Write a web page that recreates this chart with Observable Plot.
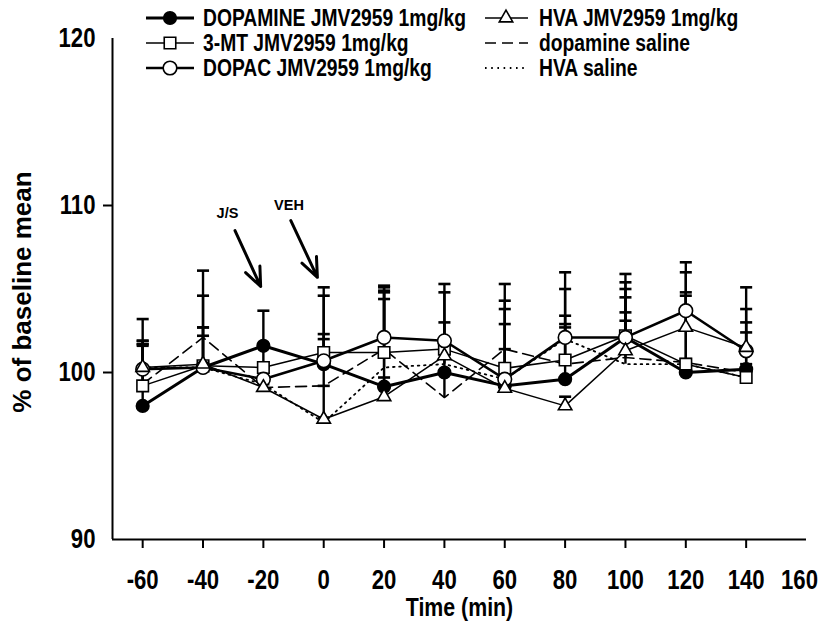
<!DOCTYPE html>
<html><head><meta charset="utf-8">
<script src="https://cdn.jsdelivr.net/npm/d3@7"></script>
<script src="https://cdn.jsdelivr.net/npm/@observablehq/plot@0.6"></script>
<style>
body{margin:0;background:#fff;}
#wrap{position:relative;width:827px;height:630px;}
#legend{position:absolute;left:0;top:0;}
</style></head><body><div id="wrap"></div>
<script>
const times = [-60, -40, -20, 0, 20, 40, 60, 80, 100, 120, 140];
const dopamineJMV      = [98.0, 100.3, 101.6, 100.5, 99.15, 100.0, 99.2, 99.6, 102.1, 100.0, 100.2];
const dopamineJMVUpper = [101.6, 102.7, 103.7, 102.3, 104.9, 103.0, 103.8, 103.4, 105.0, 104.6, 103.0];
const mtJMV            = [99.2, 100.4, 100.3, 101.2, 101.2, 101.4, 100.25, 100.75, 102.2, 100.5, 99.7];
const mtJMVUpper       = [101.7, 104.6, 101.5, 104.6, 105.1, 104.8, 105.3, 105.0, 105.9, 104.8, 102.4];
const dopacJMV         = [100.2, 100.3, 99.6, 100.7, 102.1, 101.9, 99.6, 102.1, 102.1, 103.7, 101.3];
const dopacJMVUpper    = [101.9, 106.1, 100.3, 105.1, 105.2, 105.3, 104.3, 106.0, 105.4, 106.6, 105.1];
const hvaJMV           = [100.3, 100.5, 99.1, 97.2, 98.55, 101.0, 99.05, 98.0, 101.3, 102.7, 101.5];
const hvaJMVUpper      = [103.2, 102.7, 99.6, 99.2, 99.7, 102.0, 101.4, 98.55, 104.5, 106.0, 103.8];
const dopamineSaline      = [99.3, 102.1, 99.1, 99.2, 101.4, 98.5, 101.4, 100.5, 100.9, 100.6, 100.0];
const dopamineSalineUpper = [101.9, 102.2, 99.3, 102.0, 104.8, 100.0, 102.9, 102.9, 103.6, 100.8, 100.5];
const hvaSaline           = [100.3, 100.3, 99.3, 97.0, 100.3, 100.5, 99.6, 102.0, 100.5, 100.5, 99.7];
const hvaSalineUpper      = [101.7, 100.6, 99.5, 97.3, 104.4, 101.4, 100.4, 102.7, 103.1, 100.7, 100.2];

const seriesNames = ["DOPAMINE JMV2959 1mg/kg", "3-MT JMV2959 1mg/kg", "DOPAC JMV2959 1mg/kg",
                     "HVA JMV2959 1mg/kg", "dopamine saline", "HVA saline"];
const xTickValues  = [-60, -40, -20, 0, 20, 40, 60, 80, 100, 120, 140];
const xLabelValues = [-60, -40, -20, 0, 20, 40, 60, 80, 100, 120, 140];
const xLastLabel   = [160];
const yTickValues  = [100, 110];
const yLabelValues = [90, 100, 110, 120];
const xTitle = "Time (min)";
const yTitle = "% of baseline mean";
const annotations = [
  {label: "J/S", lx: -31.9, ly: 109.5, x1: -29.4, y1: 108.5, x2: -20.9, y2: 105.15},
  {label: "VEH", lx: -11.5, ly: 110.0, x1: -10.9, y1: 109.1, x2: -2.1, y2: 105.7}
];

const valueSets = [dopamineJMV, mtJMV, dopacJMV, hvaJMV, dopamineSaline, hvaSaline];
const upperSets = [dopamineJMVUpper, mtJMVUpper, dopacJMVUpper, hvaJMVUpper, dopamineSalineUpper, hvaSalineUpper];
const styles = [
  {strokeWidth: 3},
  {strokeWidth: 1.5},
  {strokeWidth: 2.6},
  {strokeWidth: 1.5},
  {strokeWidth: 1.6, strokeDasharray: "11,6"},
  {strokeWidth: 1.8, strokeDasharray: "1.6,4.6"}
];
const markerDefs = [
  {symbol: "circle", fill: "black", r: 6.3},
  {symbol: "square", fill: "white", r: 6.5},
  {symbol: "circle", fill: "white", r: 6.8},
  {symbol: "triangle", fill: "white", r: 5.0},
  null, null
];

const series = seriesNames.map((name, i) => times.map((t, j) => ({series: name, time: t, value: valueSets[i][j], upper: upperSets[i][j]})));
const allRows = series.flat();

const capSymbol = {draw(ctx, size) { const w = Math.sqrt(size); ctx.moveTo(-w, 0); ctx.lineTo(w, 0); }};

const FONT = "'Liberation Sans', Arial, sans-serif";
const SQUEEZE = 0.82;

const marks = [];
series.forEach((rows, i) => marks.push(Plot.line(rows, {x: "time", y: "value", stroke: "black", ...styles[i]})));
marks.push(Plot.ruleX(allRows, {x: "time", y1: "value", y2: "upper", stroke: "black", strokeWidth: 2.4}));
marks.push(Plot.dot(allRows, {x: "time", y: "upper", symbol: capSymbol, r: 3.4, stroke: "black", strokeWidth: 2.6, fill: "none"}));
series.forEach((rows, i) => {
  const m = markerDefs[i];
  if (m) marks.push(Plot.dot(rows, {x: "time", y: "value", symbol: m.symbol, r: m.r, fill: m.fill, stroke: "black", strokeWidth: 1.6}));
});
marks.push(Plot.arrow(annotations, {x1: "x1", y1: "y1", x2: "x2", y2: "y2", stroke: "black", strokeWidth: 3, headLength: 16, headAngle: 45}));
marks.push(Plot.text(annotations, {x: "lx", y: "ly", text: "label", fontSize: 14.5, fontWeight: "bold", fill: "black"}));
// axes
marks.push(Plot.ruleX([-70], {stroke: "black", strokeWidth: 2}));
marks.push(Plot.ruleY([90], {stroke: "black", strokeWidth: 2}));
marks.push(Plot.axisX({ticks: xTickValues, tickSize: 9, tickFormat: () => "", strokeWidth: 2}));
marks.push(Plot.axisX({ticks: xLabelValues, tickSize: 0, tickPadding: 30, fontSize: 27, fontWeight: "bold", tickFormat: d => String(d)}));
marks.push(Plot.axisX({ticks: xLastLabel, tickSize: 0, tickPadding: 30, dx: -7, fontSize: 27, fontWeight: "bold", tickFormat: d => String(d)}));
marks.push(Plot.axisY({ticks: yTickValues, tickSize: 9, tickFormat: () => "", strokeWidth: 2}));
marks.push(Plot.axisY({ticks: yLabelValues, tickSize: 0, tickPadding: 17, fontSize: 27, fontWeight: "bold", tickFormat: d => String(d)}));
marks.push(Plot.text([xTitle], {frameAnchor: "bottom", lineAnchor: "middle", dy: 68, fontSize: 26, fontWeight: "bold"}));
marks.push(Plot.text([yTitle], {frameAnchor: "left", textAnchor: "middle", lineAnchor: "middle", dx: -90, dy: 3, rotate: -90, fontSize: 26, fontWeight: "bold"}));

const chart = Plot.plot({
  width: 827, height: 630,
  marginLeft: 112, marginRight: 21, marginTop: 38, marginBottom: 91,
  x: {domain: [-70, 160], label: null},
  y: {domain: [90, 120], label: null},
  style: {fontFamily: FONT, background: "white", color: "black", overflow: "visible"},
  marks
});
const wrap = document.getElementById("wrap");
wrap.appendChild(chart);

// legend overlay
const lg = d3.select(wrap).append("svg").attr("id", "legend").attr("width", 827).attr("height", 84)
  .style("font-family", FONT).style("font-weight", "bold");
const legendPos = [
  {col: 0, row: 0}, {col: 0, row: 1}, {col: 0, row: 2},
  {col: 1, row: 0}, {col: 1, row: 1}, {col: 1, row: 2}
];
const colX = [{x1: 146, x2: 194, mx: 170, tx: 203}, {x1: 485, x2: 528, mx: 506, tx: 539}];
const rowY = [18, 43, 68];
seriesNames.forEach((name, i) => {
  const c = colX[legendPos[i].col], y = rowY[legendPos[i].row];
  const g = lg.append("g");
  const st = styles[i];
  g.append("line").attr("x1", c.x1).attr("x2", c.x2).attr("y1", y).attr("y2", y)
    .attr("stroke", "black").attr("stroke-width", st.strokeWidth)
    .attr("stroke-dasharray", st.strokeDasharray || null);
  const m = markerDefs[i];
  if (m) {
    const sym = {circle: d3.symbolCircle, square: d3.symbolSquare, triangle: d3.symbolTriangle}[m.symbol];
    g.append("path").attr("d", d3.symbol(sym, Math.PI * m.r * m.r)())
      .attr("transform", `translate(${c.mx},${y})`).attr("fill", m.fill).attr("stroke", "black").attr("stroke-width", 1.6);
  }
  g.append("text").attr("x", c.tx).attr("y", y).attr("dy", "0.36em").attr("font-size", 23.5).text(name);
});

// horizontally condense the horizontal texts, as in the reference figure
const skip = new Set([yTitle, ...annotations.map(a => a.label)]);
wrap.querySelectorAll("text").forEach(t => {
  if (skip.has(t.textContent)) return;
  const len = t.getComputedTextLength();
  if (len > 0) {
    t.setAttribute("textLength", (len * SQUEEZE).toFixed(2));
    t.setAttribute("lengthAdjust", "spacingAndGlyphs");
  }
});
</script></body></html>
